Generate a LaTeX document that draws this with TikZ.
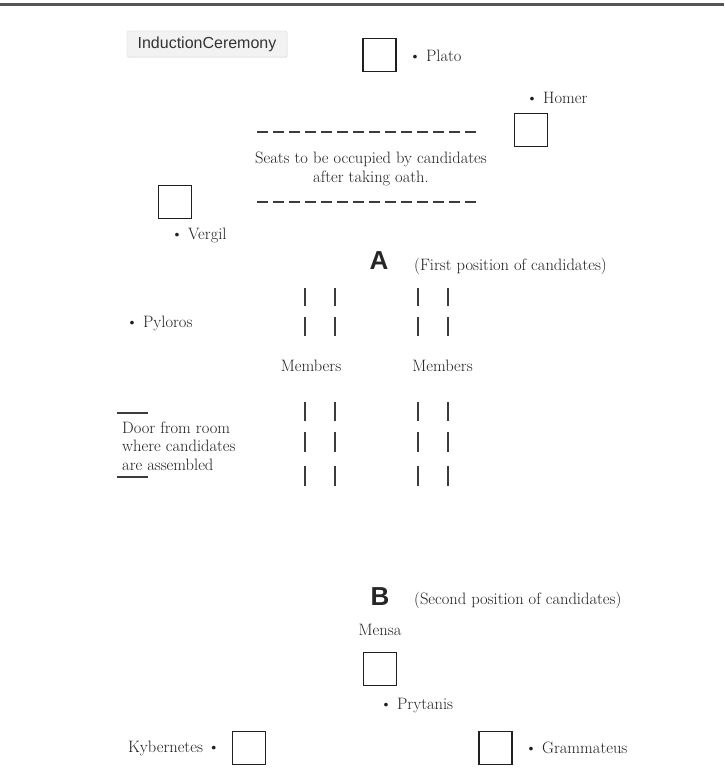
\documentclass[tikz,border=0pt]{standalone}
\usepackage{fontspec}
\newfontfamily\tagfont{Liberation Sans}
\usepackage{tikz}
\usetikzlibrary{positioning, shadows}
\definecolor{inkGray}{RGB}{32, 32, 32}
\definecolor{barGray}{RGB}{60, 60, 60}
\definecolor{tagFill}{RGB}{242, 242, 242}
\definecolor{tagLine}{RGB}{212, 212, 212}
\definecolor{topBar}{RGB}{85, 85, 85}
\tikzset{
  seat/.style={draw=inkGray, line width=1.3pt, minimum size=33pt, inner sep=0pt},
  roomtext/.style={text=inkGray, font=\fontsize{16.5}{18.5}\selectfont, inner sep=1pt},
  bigletter/.style={text=black!85, font=\tagfont\bfseries\fontsize{26}{28}\selectfont, inner sep=0pt},
  memberbar/.style={barGray, line width=1.1pt},
  tag/.style={draw=tagLine, fill=tagFill, rounded corners=2pt, text=black!80,
    font=\tagfont\fontsize{16}{18}\selectfont, minimum width=160pt, minimum height=26pt,
    drop shadow={opacity=0.12, shadow xshift=0.6pt, shadow yshift=-1pt}}
}

\begin{document}
\begin{tikzpicture}[x=1pt, y=-1pt]
      \useasboundingbox (0,0) rectangle (724,784);
      \fill[white] (0,0) rectangle (724,784);
      \draw[topBar, line width=3pt] (0,5) -- (724,5);

      % Title tag
      \node[tag] (tag) at (207,44) {InductionCeremony};

      % Seats of the officers, upper end
      \node[seat] (plato) at (379.5,55) {};
      \node[roomtext, anchor=west] (platoName) at (408,56) {\textbullet\ Plato};
      \node[seat] (homer) at (531,130) {};
      \node[roomtext, anchor=west] (homerName) at (525,98) {\textbullet\ Homer};
      \node[seat] (vergil) at (175,202) {};
      \node[roomtext, anchor=west] (vergilName) at (170,235) {\textbullet\ Vergil};

      % Seats after the oath
      \draw[memberbar, line width=1.4pt, dash pattern=on 11pt off 5pt] (257,132) -- (478,132);
      \node[roomtext, align=center] (seats) at (371,169) {Seats to be occupied by candidates\\after taking oath.};
      \draw[memberbar, line width=1.4pt, dash pattern=on 11pt off 5pt] (257,202) -- (478,202);

      % First position
      \node[bigletter] (posA) at (379,261) {A};
      \node[roomtext, anchor=west] (posAText) at (413,266) {(First position of candidates)};
      \node[roomtext, anchor=west] (pyloros) at (125,323) {\textbullet\ Pyloros};

      % Members on both sides
      \foreach \xb in {305,335,418,448}
        \foreach \ya/\yb in {288/306, 317/336, 402/421, 432/452, 466/486}
          \draw[memberbar] (\xb,\ya) -- (\xb,\yb);
      \node[roomtext] (membersL) at (311,366) {Members};
      \node[roomtext] (membersR) at (442.5,366) {Members};

      % Door
      \draw[memberbar, line width=1.4pt] (117,413) -- (148,413);
      \node[roomtext, anchor=west, align=left] (door) at (121,446) {Door from room\\where candidates\\are assembled};
      \draw[memberbar, line width=1.4pt] (117,477) -- (148,477);

      % Second position
      \node[bigletter] (posB) at (380,597) {B};
      \node[roomtext, anchor=west] (posBText) at (413,600) {(Second position of candidates)};
      \node[roomtext] (mensa) at (380,630) {Mensa};
      \node[seat] (prytanis) at (380,669) {};
      \node[roomtext, anchor=west] (prytanisName) at (379,706) {\textbullet\ Prytanis};

      % Lower officers
      \node[seat] (kybernetes) at (249,748) {};
      \node[roomtext, anchor=east] (kybernetesName) at (221,748) {Kybernetes \textbullet};
      \node[seat] (grammateus) at (495.5,748) {};
      \node[roomtext, anchor=west] (grammateusName) at (524,748) {\textbullet\ Grammateus};
\end{tikzpicture}
\end{document}
